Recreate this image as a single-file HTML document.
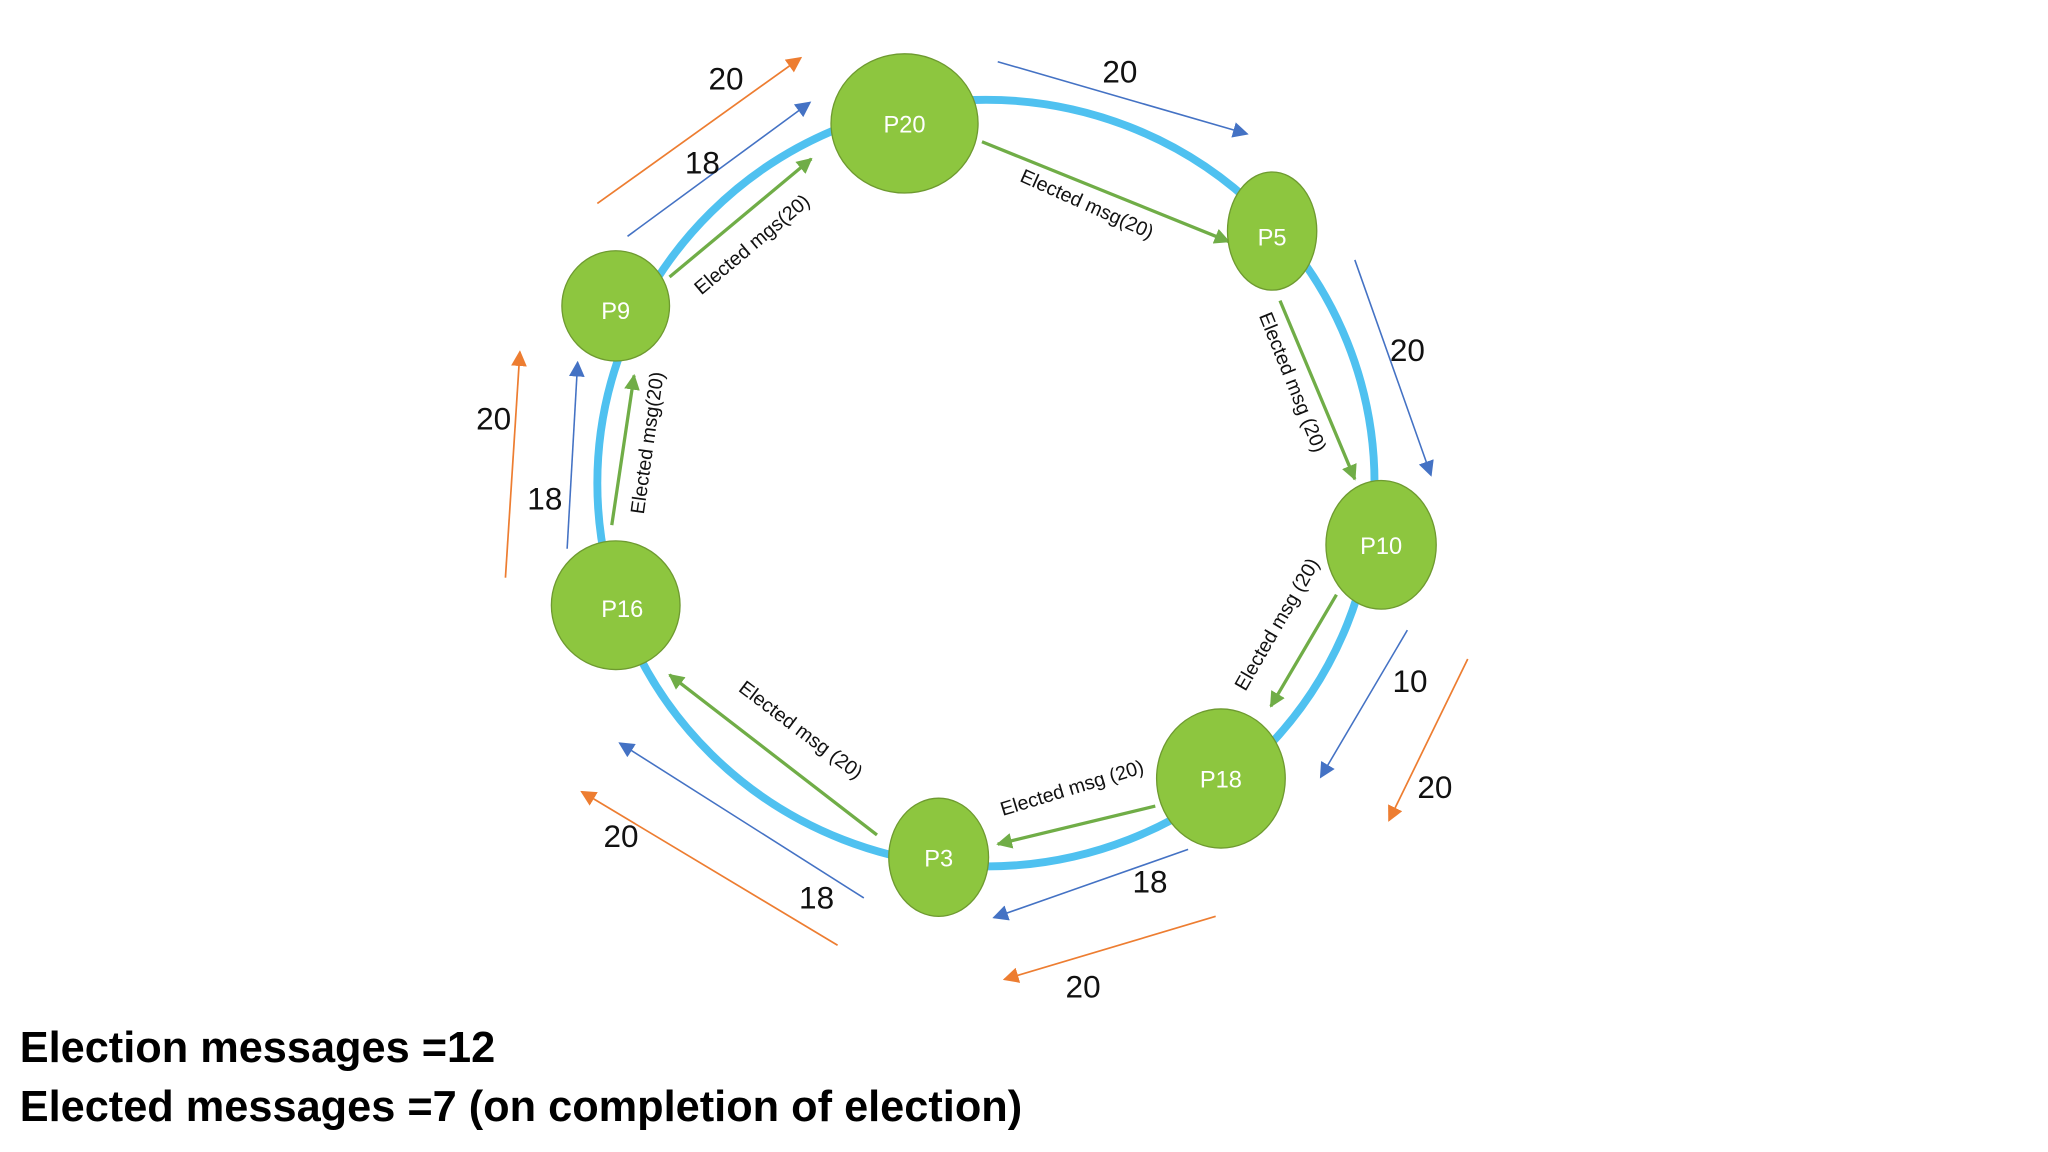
<!DOCTYPE html>
<html><head><meta charset="utf-8"><style>
html,body{margin:0;padding:0;background:#fff;}
svg{display:block;}
</style></head><body>
<svg width="2048" height="1152" viewBox="0 0 1560 877.5" preserveAspectRatio="none" xmlns="http://www.w3.org/2000/svg" font-family="Liberation Sans, sans-serif">
<defs>
<marker id="b" viewBox="0 0 10 10" refX="9" refY="5" markerWidth="6" markerHeight="6" markerUnits="userSpaceOnUse" orient="auto"><path d="M0,0L10,5L0,10z" fill="#4472C4" transform="scale(1)"/></marker>
<marker id="bb" viewBox="0 0 10 10" refX="9" refY="5" markerWidth="12" markerHeight="12" markerUnits="userSpaceOnUse" orient="auto"><path d="M0,0L10,5L0,10z" fill="#4472C4"/></marker>
<marker id="o" viewBox="0 0 10 10" refX="9" refY="5" markerWidth="12" markerHeight="12" markerUnits="userSpaceOnUse" orient="auto"><path d="M0,0L10,5L0,10z" fill="#ED7D31"/></marker>
<marker id="g" viewBox="0 0 10 10" refX="9" refY="5" markerWidth="12" markerHeight="12" markerUnits="userSpaceOnUse" orient="auto"><path d="M0,0L10,5L0,10z" fill="#70AD47"/></marker>
</defs>
<ellipse cx="751" cy="368" rx="296" ry="292" fill="none" stroke="#4FC1F0" stroke-width="6"/>
<g stroke="#4472C4" stroke-width="1.2" fill="none" marker-end="url(#bb)">
<line x1="760" y1="47" x2="950" y2="102"/>
<line x1="1032" y1="198" x2="1090" y2="362"/>
<line x1="1072" y1="480" x2="1006" y2="592"/>
<line x1="905" y1="647" x2="757" y2="699"/>
<line x1="658" y1="684" x2="472" y2="566"/>
<line x1="432" y1="418" x2="440" y2="276"/>
<line x1="478" y1="180" x2="617" y2="78"/>
</g>
<g stroke="#ED7D31" stroke-width="1.3" fill="none" marker-end="url(#o)">
<line x1="455" y1="155" x2="610" y2="44"/>
<line x1="385" y1="440" x2="396" y2="268"/>
<line x1="638" y1="720" x2="443" y2="603"/>
<line x1="926" y1="698" x2="765" y2="746"/>
<line x1="1118" y1="502" x2="1058" y2="625"/>
</g>
<g stroke="#70AD47" stroke-width="2.5" fill="none" marker-end="url(#g)">
<line x1="510" y1="211" x2="618" y2="121"/>
<line x1="748" y1="108" x2="936" y2="184"/>
<line x1="975" y1="229" x2="1032" y2="365"/>
<line x1="1018" y1="453" x2="968" y2="538"/>
<line x1="880" y1="614" x2="760" y2="643"/>
<line x1="668" y1="636" x2="510" y2="514"/>
<line x1="466" y1="400" x2="483" y2="286"/>
</g>
<g fill="#8DC63F" stroke="#6E9A30" stroke-width="1">
<ellipse cx="689" cy="94" rx="56" ry="53"/>
<ellipse cx="969" cy="176" rx="34" ry="45"/>
<ellipse cx="1052" cy="415" rx="42" ry="49"/>
<ellipse cx="930" cy="593" rx="49" ry="53"/>
<ellipse cx="715" cy="653" rx="38" ry="45"/>
<ellipse cx="469" cy="461" rx="49" ry="49"/>
<ellipse cx="469" cy="233" rx="41" ry="42"/>
</g>
<g fill="#fff" font-size="18" text-anchor="middle">
<text x="689" y="101">P20</text>
<text x="969" y="187">P5</text>
<text x="1052" y="422">P10</text>
<text x="930" y="600">P18</text>
<text x="715" y="660">P3</text>
<text x="474" y="470">P16</text>
<text x="469" y="243">P9</text>
</g>
<g fill="#111" font-size="24" text-anchor="middle">
<text x="853" y="63">20</text>
<text x="1072" y="275">20</text>
<text x="1074" y="527">10</text>
<text x="876" y="680">18</text>
<text x="622" y="692">18</text>
<text x="415" y="388">18</text>
<text x="535" y="132">18</text>
<text x="553" y="68">20</text>
<text x="376" y="327">20</text>
<text x="473" y="645">20</text>
<text x="825" y="760">20</text>
<text x="1093" y="608">20</text>
</g>
<g fill="#111" font-size="15" text-anchor="middle">
<text transform="translate(576,190) rotate(-40)">Elected mgs(20)</text>
<text transform="translate(826,160) rotate(24)">Elected msg(20)</text>
<text transform="translate(980,293) rotate(68)">Elected msg (20)</text>
<text transform="translate(977,478) rotate(-60)">Elected msg (20)</text>
<text transform="translate(818,605) rotate(-17)">Elected msg (20)</text>
<text transform="translate(607,560) rotate(37)">Elected msg (20)</text>
<text transform="translate(498,338) rotate(-82)">Elected msg(20)</text>
</g>
<g fill="#000" font-size="33" font-weight="bold">
<text x="15" y="809">Election messages =12</text>
<text x="15" y="854">Elected messages =7 (on completion of election)</text>
</g>
</svg>
</body></html>
